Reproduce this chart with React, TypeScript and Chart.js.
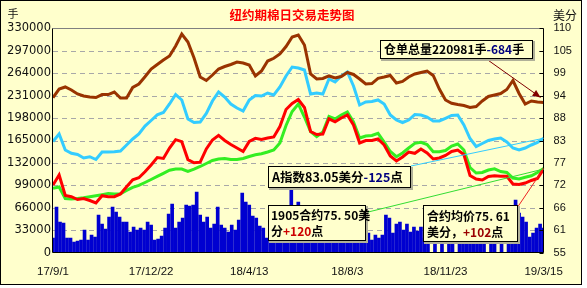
import { useEffect, useRef } from 'react';
import { Chart, registerables } from 'chart.js';

Chart.register(...registerables);

// ---------- data ----------
const tickLabels = ['17/9/1', '17/12/22', '18/4/13', '18/8/3', '18/11/23', '19/3/15'];
const TOTAL_DAYS = 560;
const TICK_STEP = 112;
const LINE_STEP = 7; // days between line samples
const BAR_STEP = 4; // days between volume bars

// 持仓/仓单总量 (手) – left axis
const openInterest = [
  228000, 240700, 243700, 239300, 233400, 230400, 229000, 228200, 232600, 232600,
  236300, 227500, 227500, 243000, 248100, 258800, 270100, 276800, 283400, 289300,
  304000, 321600, 309900, 286300, 258400, 253200, 261300, 270100, 273800, 276800,
  280400, 279000, 276000, 259900, 267200, 281900, 285900, 292200, 303200, 317200,
  320200, 305400, 262800, 255400, 256200, 259900, 256900, 259100, 265000, 262100,
  255400, 248100, 248800, 256500, 258400, 260600, 249600, 251800, 258400, 262800,
  265000, 267200, 260600, 240700, 224600, 219700, 217900, 216500, 213500, 215000,
  223100, 229700, 231900, 234100, 240000, 253200, 234100, 218700, 223100, 221600,
  220981,
];

// A指数 (美分) – right axis
const aIndex = [
  82.26, 84.09, 80.17, 79.36, 79.07, 78.21, 78.53, 77.84, 79.68, 79.68,
  79.76, 79.93, 81.4, 82.87, 84.09, 86.05, 87.4, 88.8, 89.36, 91.45,
  93.77, 92.43, 87.77, 86.91, 87.03, 89.12, 92.18, 94.39, 93.16, 91.45,
  90.47, 89.73, 92.43, 93.53, 93.41, 94.14, 93.65, 95.61, 98.31, 100.51,
  100.27, 99.78, 93.9, 94.14, 93.9, 97.57, 96.84, 98.31, 99.29, 95.86,
  91.2, 91.94, 92.06, 92.43, 91.45, 88.75, 87.52, 86.91, 87.52, 88.87,
  88.75, 88.26, 87.28, 87.28, 87.94, 88.63, 88.75, 86.3, 82.99, 81.03,
  81.77, 82.5, 82.87, 83.11, 82.13, 80.66, 80.17, 80.66, 81.4, 82.01,
  83.05,
];

// 1905合约 (美分) – right axis
const contract1905 = [
  71.59, 74.04, 69.02, 68.73, 68.04, 68.28, 67.79, 67.18, 68.97, 68.73,
  68.73, 69.39, 71.18, 72.89, 73.38, 74.85, 76.5, 78.31, 78.09, 80.66,
  82.7, 82.21, 77.82, 77.03, 77.18, 80.42, 82.62, 83.77, 82.5, 81.52,
  80.66, 79.8, 82.26, 83.04, 82.75, 83.11, 83.36, 85.93, 90.1, 91.57,
  92.55, 90.59, 84.71, 83.97, 84.09, 87.82, 87.08, 88.01, 88.75, 86.3,
  81.89, 82.5, 82.5, 82.87, 81.4, 78.7, 77.48, 78.46, 79.68, 79.36,
  80.42, 79.44, 77.97, 78.21, 78.82, 79.8, 80.17, 79.07, 73.92, 73.06,
  72.82, 73.68, 73.85, 73.73, 73.75, 71.84, 71.72, 72.08, 72.7, 73.19,
  75.5,
];

// 合约均价 (美分) – right axis
const avgPrice = [
  70.78, 71.1, 68.28, 68.16, 68.28, 68.48, 68.73, 68.97, 69.22, 69.49,
  69.39, 69.46, 70.27, 71.01, 71.5, 72.21, 72.94, 73.7, 74.46, 75.22,
  75.51, 75.51, 74.95, 75.47, 76.13, 76.86, 77.6, 77.97, 78.09, 77.84,
  77.84, 78.09, 78.58, 79.0, 79.26, 79.68, 80.17, 81.89, 86.18, 89.61,
  91.45, 88.26, 84.71, 83.48, 84.58, 88.38, 87.77, 88.75, 89.49, 87.03,
  83.11, 83.6, 83.73, 84.26, 82.13, 79.8, 78.53, 79.44, 80.66, 81.81,
  82.06, 81.52, 79.76, 79.76, 80.05, 81.15, 81.64, 80.17, 75.88, 74.53,
  74.66, 75.27, 75.56, 74.9, 74.66, 73.31, 73.06, 73.48, 73.85, 74.66,
  75.61,
];

// 成交量 (手) – left axis, bars
const volume = [
  21600, 67200, 45100, 43700, 21600, 21600, 15700, 17200, 18700, 33400,
  18700, 26000, 23100, 55400, 42200, 34900, 52500, 67200, 59900, 52500,
  45100, 45100, 30400, 37800, 33400, 36300, 33400, 45100, 40700, 18700,
  20100, 24600, 36300, 56900, 71600, 36300, 45100, 51000, 70100, 68700,
  70100, 89300, 55400, 45100, 52500, 36300, 42200, 67200, 40700, 36300,
  30400, 40700, 33400, 48100, 87800, 74600, 70100, 54000, 51000, 39300,
  36300, 21600, 26000, 30400, 24600, 33400, 29000, 36300, 99600, 62800,
  74600, 67200, 33400, 27500, 30400, 24600, 33400, 21600, 29000, 24600,
  30400, 21600, 27500, 24600, 31900, 23100, 29000, 24600, 30400, 24600,
  29000, 18700, 26000, 21600, 26000, 55400, 51000, 29000, 42200, 45100,
  33400, 42200, 30400, 37800, 31900, 37800, 21600, 24600, 0, 24600,
  0, 26000, 0, 24600, 27500, 0, 30400, 21600, 27500, 24600,
  30400, 21600, 26000, 29000, 0, 24600, 30400, 0, 26000, 0,
  24600, 33400, 77500, 58400, 52500, 45100, 23100, 29000, 36300, 42200,
  36300,
];

const titleText = '纽约期棉日交易走势图';
const leftUnit = '手';
const rightUnit = '美分';

// ---------- styles ----------
const BG = '#FFFFCC';
const CJK = '"Noto Sans CJK SC", "Noto Sans CJK JP", sans-serif';
const C_BROWN = '#993300';
const C_CYAN = '#33CCFF';
const C_RED = '#FF0000';
const C_GREEN = '#33EE22';
const C_BLUE = '#0000D0';

type Seg = [string, string];

function drawSegs(ctx: CanvasRenderingContext2D, x: number, y: number, segs: Seg[], font: string) {
  ctx.font = font;
  ctx.textBaseline = 'middle';
  ctx.textAlign = 'left';
  let cx = x;
  for (const [t, c] of segs) {
    ctx.fillStyle = c;
    ctx.fillText(t, cx, y);
    cx += ctx.measureText(t).width;
  }
}

function box(ctx: CanvasRenderingContext2D, x: number, y: number, w: number, h: number) {
  ctx.fillStyle = '#b0b098';
  ctx.fillRect(x + 1, y + 1, w + 1, h + 1);
  ctx.fillStyle = BG;
  ctx.fillRect(x, y, w, h);
  ctx.strokeStyle = '#000';
  ctx.lineWidth = 1;
  ctx.strokeRect(x + 0.5, y + 0.5, w - 1, h - 1);
}

function line(ctx: CanvasRenderingContext2D, x1: number, y1: number, x2: number, y2: number, color: string) {
  ctx.strokeStyle = color;
  ctx.lineWidth = 1;
  ctx.beginPath();
  ctx.moveTo(x1, y1);
  ctx.lineTo(x2, y2);
  ctx.stroke();
}

const decorPlugin = {
  id: 'decor',
  beforeDraw(chart: any) {
    const { ctx } = chart;
    ctx.save();
    ctx.fillStyle = '#ffffff';
    ctx.fillRect(0, 0, chart.width, chart.height);
    ctx.fillStyle = BG;
    ctx.fillRect(0, 0, 582, 285);
    ctx.strokeStyle = '#000';
    ctx.lineWidth = 1;
    ctx.strokeRect(0.5, 0.5, 581, 284);
    ctx.restore();
  },
  beforeDatasetsDraw(chart: any) {
    const { ctx, chartArea } = chart;
    const ys = chart.scales.y;
    ctx.save();
    ctx.strokeStyle = '#A8A8A8';
    ctx.lineWidth = 1;
    ctx.setLineDash([5, 4]);
    ys.ticks.forEach((t: any) => {
      if (t.value <= ys.min || t.value >= ys.max) return;
      const py = Math.round(ys.getPixelForValue(t.value)) + 0.5;
      ctx.beginPath();
      ctx.moveTo(chartArea.left, py);
      ctx.lineTo(chartArea.right, py);
      ctx.stroke();
    });
    ctx.restore();
  },
  afterDatasetsDraw(chart: any) {
    const { ctx, chartArea } = chart;
    const { left, right, top, bottom } = chartArea;
    const xl = Math.round(left) - 0.5;
    const xr = Math.floor(right) + 0.5;
    const yt = Math.round(top) + 0.5;
    const yb = Math.floor(bottom) + 0.5;
    ctx.save();
    ctx.lineWidth = 1;
    ctx.strokeStyle = '#808080';
    ctx.beginPath();
    ctx.moveTo(xl, yt);
    ctx.lineTo(xr, yt);
    ctx.stroke();
    ctx.strokeStyle = '#000';
    ctx.beginPath();
    ctx.moveTo(xl, yt);
    ctx.lineTo(xl, yb);
    ctx.lineTo(xr, yb);
    ctx.lineTo(xr, yt);
    ctx.stroke();
    const y1 = chart.scales.y1;
    y1.ticks.forEach((t: any) => {
      const py = Math.round(y1.getPixelForValue(t.value)) + 0.5;
      ctx.beginPath();
      ctx.moveTo(xr - 4, py);
      ctx.lineTo(xr, py);
      ctx.stroke();
    });
    ctx.restore();
  },
  afterDraw(chart: any) {
    const { ctx } = chart;
    const xs = chart.scales.x;
    const ys = chart.scales.y;
    const y1 = chart.scales.y1;
    const ex = xs.getPixelForValue(TOTAL_DAYS);
    ctx.save();

    // title + units
    ctx.fillStyle = '#FF0000';
    ctx.font = `bold 12.5px ${CJK}`;
    ctx.textAlign = 'center';
    ctx.textBaseline = 'middle';
    ctx.fillText(titleText, 292, 15);
    ctx.fillStyle = '#111';
    ctx.font = `11px ${CJK}`;
    ctx.fillText(leftUnit, 13, 14);
    ctx.font = `12px ${CJK}`;
    ctx.fillText(rightUnit, 565, 15);

    // connectors
    const lastOI = openInterest[openInterest.length - 1];
    const ax = ex - 3;
    const ay = ys.getPixelForValue(lastOI) - 5;
    const sx = 485, sy = 58;
    line(ctx, sx, sy, ax, ay, '#800000');
    const ang = Math.atan2(ay - sy, ax - sx);
    ctx.fillStyle = '#800000';
    ctx.beginPath();
    ctx.moveTo(ax, ay);
    ctx.lineTo(ax - 8 * Math.cos(ang) + 3.5 * Math.sin(ang), ay - 8 * Math.sin(ang) - 3.5 * Math.cos(ang));
    ctx.lineTo(ax - 8 * Math.cos(ang) - 3.5 * Math.sin(ang), ay - 8 * Math.sin(ang) + 3.5 * Math.cos(ang));
    ctx.closePath();
    ctx.fill();

    line(ctx, 411, 166, ex, y1.getPixelForValue(aIndex[aIndex.length - 1]), '#33CCFF');
    line(ctx, 360, 214, ex, y1.getPixelForValue(contract1905[contract1905.length - 1]), '#33DD33');
    line(ctx, 517, 208, ex, y1.getPixelForValue(avgPrice[avgPrice.length - 1]), '#EE2222');

    // boxes
    const f12 = `bold 12px ${CJK}`;
    box(ctx, 380, 40, 153, 19);
    drawSegs(ctx, 384, 49.5, [['仓单总量220981手', '#000'], ['-684', '#000080'], ['手', '#000']], f12);

    box(ctx, 268, 166, 143, 22);
    drawSegs(ctx, 272, 177, [['A指数83.05美分', '#000'], ['-125', '#000080'], ['点', '#000']], `bold 12.5px ${CJK}`);

    box(ctx, 268, 205, 98, 36);
    drawSegs(ctx, 271, 215.5, [['1905合约75. 50美', '#000']], f12);
    drawSegs(ctx, 271, 231, [['分', '#000'], ['+120', '#CC0000'], ['点', '#000']], f12);

    box(ctx, 423, 205, 95, 37);
    drawSegs(ctx, 427, 216.5, [['合约均价75. 61', '#000']], f12);
    drawSegs(ctx, 427, 232, [['美分，', '#000'], ['+102', '#990000'], ['点', '#000']], f12);

    ctx.restore();
  },
};

export default function App() {
  const ref = useRef<HTMLCanvasElement>(null);
  useEffect(() => {
    document.body.style.margin = '0';
    const canvas = ref.current;
    if (!canvas) return;
    const toPts = (arr: number[], step: number) => arr.map((v, i) => ({ x: i * step, y: v }));
    const chart = new Chart(canvas, {
      type: 'bar',
      data: {
        datasets: [
          {
            type: 'line',
            label: '1905合约',
            data: toPts(contract1905, LINE_STEP),
            yAxisID: 'y1',
            borderColor: C_RED,
            borderWidth: 3,
            pointRadius: 0,
            tension: 0,
            order: 1,
          } as any,
          {
            type: 'line',
            label: '合约均价',
            data: toPts(avgPrice, LINE_STEP),
            yAxisID: 'y1',
            borderColor: C_GREEN,
            borderWidth: 3,
            pointRadius: 0,
            tension: 0,
            order: 2,
          },
          {
            type: 'line',
            label: '仓单总量',
            data: toPts(openInterest, LINE_STEP),
            yAxisID: 'y',
            borderColor: C_BROWN,
            borderWidth: 3,
            pointRadius: 0,
            tension: 0,
            order: 3,
          },
          {
            type: 'line',
            label: 'A指数',
            data: toPts(aIndex, LINE_STEP),
            yAxisID: 'y1',
            borderColor: C_CYAN,
            borderWidth: 3,
            pointRadius: 0,
            tension: 0,
            order: 4,
          },
          {
            type: 'bar',
            label: '成交量',
            data: toPts(volume, BAR_STEP),
            yAxisID: 'y',
            backgroundColor: C_BLUE,
            borderWidth: 0,
            barThickness: 3,
            order: 5,
          },
        ],
      },
      options: {
        responsive: false,
        animation: false,
        devicePixelRatio: 1,
        events: [],
        layout: { padding: { top: 28.3, left: 0, right: 0, bottom: 0 } },
        plugins: { legend: { display: false }, tooltip: { enabled: false } },
        scales: {
          x: {
            type: 'linear',
            min: 0,
            max: TOTAL_DAYS,
            offset: false,
            grid: { display: false, drawTicks: false },
            border: { display: false },
            ticks: {
              stepSize: TICK_STEP,
              autoSkip: false,
              maxRotation: 0,
              padding: 12,
              color: '#111',
              font: { family: '"Liberation Sans", Arial', size: 11.5 },
              callback: (v: any) => tickLabels[Math.round(Number(v) / TICK_STEP)] ?? '',
            },
            afterFit: (s: any) => {
              s.height = 35.3;
            },
          },
          y: {
            type: 'linear',
            position: 'left',
            min: 0,
            max: 330000,
            grid: { display: false, drawTicks: false },
            border: { display: false },
            ticks: {
              stepSize: 33000,
              autoSkip: false,
              padding: 2,
              color: '#111',
              font: { family: '"DejaVu Sans"', size: 11.5 },
              callback: (v: any) => String(Math.round(Number(v))),
            },
            afterFit: (s: any) => {
              s.width = 53;
            },
          },
          y1: {
            type: 'linear',
            position: 'right',
            min: 55,
            max: 110,
            grid: { display: false, drawTicks: false },
            border: { display: false },
            ticks: {
              stepSize: 5.5,
              autoSkip: false,
              padding: 10,
              color: '#111',
              font: { family: '"Liberation Sans", Arial', size: 11 },
              callback: (v: any) => String(Math.round(Number(v) + 1e-6)),
            },
            afterFit: (s: any) => {
              s.width = 43.4;
            },
          },
        },
      },
      plugins: [decorPlugin],
    });
    return () => chart.destroy();
  }, []);
  return (
    <div style={{ width: 587, height: 288 }}>
      <canvas ref={ref} width={587} height={288} style={{ display: 'block' }} />
    </div>
  );
}
